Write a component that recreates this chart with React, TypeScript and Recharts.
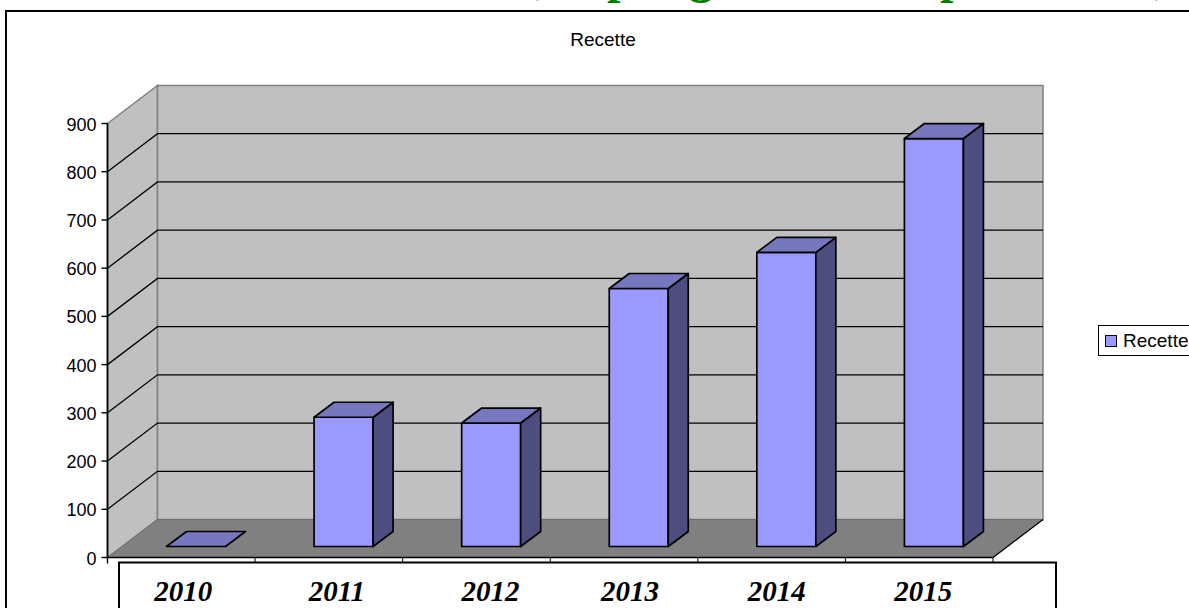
import React from 'react';
import { BarChart, Bar, XAxis, YAxis, CartesianGrid, Legend } from 'recharts';

const years = ['2010', '2011', '2012', '2013', '2014', '2015'];
const recette = [0, 268, 256, 535, 610, 846];
const valueTicks = [0, 100, 200, 300, 400, 500, 600, 700, 800, 900];

const chartData = years.map((year, i) => ({ year, recette: recette[i] }));

// the year labels sit in a text box pasted over the chart, so they are a bit off-centre
const labelNudge = [2, 8, 14, 6, 5, 4];
// bottoms of the cut-off heading above the chart
const headingBits = [
  { ch: ',', x: 536 },
  { ch: 'p', x: 607 },
  { ch: 'g', x: 689 },
  { ch: 'p', x: 940 },
  { ch: ',', x: 1155 },
];

const W = 1189;
const H = 608;
const LEFT = 107.5;
const RIGHT = 993;
const TOP = 123.5;
const BOTTOM = 557.5;
const STEP = (RIGHT - LEFT) / years.length;
// wall depth and column depth of the fake 3D
const DX = 50;
const DY = 38;
const BAR_DX = 20;
const BAR_DY = 15;

const Column = ({ x, y, width, height }: any) => {
  const left = x + 15;
  const right = left + width;
  const top = y - 11;
  const bottom = top + height;
  const line = { stroke: '#000', strokeWidth: 1.7, strokeLinejoin: 'round' as const };
  return (
    <g>
      {height > 0 && <rect x={left} y={top} width={width} height={height} fill="#9999ff" {...line} />}
      {height > 0 && (
        <polygon
          points={`${right},${top} ${right + BAR_DX},${top - BAR_DY} ${right + BAR_DX},${bottom - BAR_DY} ${right},${bottom}`}
          fill="#4d4d80"
          {...line}
        />
      )}
      <polygon
        points={`${left},${top} ${left + BAR_DX},${top - BAR_DY} ${right + BAR_DX},${top - BAR_DY} ${right},${top}`}
        fill="#7777bf"
        {...line}
      />
    </g>
  );
};

const YearTick = ({ x, index }: any) => (
  <g>
    <line x1={x - STEP / 2} y1={BOTTOM} x2={x - STEP / 2} y2={BOTTOM + 5} stroke="#000" />
    {index === years.length - 1 && <line x1={x + STEP / 2} y1={BOTTOM} x2={x + STEP / 2} y2={BOTTOM + 5} stroke="#000" />}
    <text
      x={x + labelNudge[index]}
      y={601}
      textAnchor="middle"
      fontFamily="Liberation Serif"
      fontWeight="bold"
      fontStyle="italic"
      fontSize={29}
      fill="#000"
    >
      {years[index]}
    </text>
  </g>
);

const ValueTick = ({ x, y, payload }: any) => (
  <text x={x} y={y + 7} textAnchor="end" fontFamily="Liberation Sans" fontSize={18} fill="#000">
    {payload.value}
  </text>
);

const GridLine = ({ x1, y1, x2 }: any) => {
  if (y1 <= TOP + 1 || y1 >= BOTTOM - 1) return <g />;
  return (
    <polyline
      points={`${x1},${y1} ${x1 + DX},${y1 - DY} ${x2 + DX},${y1 - DY}`}
      fill="none"
      stroke="#000"
      strokeWidth={1.3}
    />
  );
};

const LegendBox = ({ payload }: any) => (
  <div
    style={{
      width: 130,
      height: 31,
      boxSizing: 'border-box',
      border: '1.5px solid #000',
      background: '#fff',
      display: 'flex',
      alignItems: 'center',
      fontFamily: 'Liberation Sans',
      fontSize: 19,
      color: '#000',
    }}
  >
    <span
      style={{
        width: 10,
        height: 10,
        marginLeft: 6,
        marginRight: 6,
        background: '#9999ff',
        border: '1.5px solid #000',
      }}
    />
    {payload && payload[0] ? payload[0].value : ''}
  </div>
);

export default function App() {
  return (
    <div style={{ position: 'absolute', left: 0, top: 0, width: W, height: H, overflow: 'hidden', background: '#fff' }}>
      <BarChart
        width={W}
        height={H}
        data={chartData}
        barSize={59}
        margin={{ top: TOP, right: W - RIGHT, left: 0, bottom: 0 }}
      >
        {headingBits.map((b) => (
          <text
            key={b.x}
            x={b.x}
            y={-7}
            fontFamily="Liberation Serif"
            fontWeight="bold"
            fontSize={48}
            fill="#008000"
          >
            {b.ch}
          </text>
        ))}
        <rect x={6} y={11} width={1400} height={800} fill="#fff" fillOpacity={0} stroke="#000" strokeWidth={2} />
        <text x={603} y={46} textAnchor="middle" fontFamily="Liberation Sans" fontSize={19} fill="#000">
          Recette
        </text>

        <polygon
          points={`${LEFT},${TOP} ${LEFT + DX},${TOP - DY} ${LEFT + DX},${BOTTOM - DY} ${LEFT},${BOTTOM}`}
          fill="#c0c0c0"
          stroke="#808080"
          strokeWidth={1.5}
        />
        <rect
          x={LEFT + DX}
          y={TOP - DY}
          width={RIGHT - LEFT}
          height={BOTTOM - TOP}
          fill="#c0c0c0"
          stroke="#808080"
          strokeWidth={1.5}
        />
        <polygon
          points={`${LEFT},${BOTTOM} ${LEFT + DX},${BOTTOM - DY} ${RIGHT + DX},${BOTTOM - DY} ${RIGHT},${BOTTOM}`}
          fill="#808080"
          stroke="#6e6e6e"
          strokeWidth={1}
        />
        <line x1={RIGHT} y1={BOTTOM} x2={RIGHT + DX} y2={BOTTOM - DY} stroke="#000" strokeWidth={1.2} />
        <line x1={LEFT} y1={TOP} x2={LEFT} y2={BOTTOM + 6} stroke="#000" strokeWidth={1.4} />
        <rect x={119} y={562.5} width={937} height={80} fill="#fff" stroke="#000" strokeWidth={2} />

        <CartesianGrid zIndex={1} vertical={false} horizontal={GridLine} />
        <XAxis
          dataKey="year"
          interval={0}
          height={H - BOTTOM}
          axisLine={{ stroke: '#000', strokeWidth: 1.4 }}
          tickLine={false}
          tick={YearTick}
        />
        <YAxis
          width={LEFT}
          domain={[0, 900]}
          ticks={valueTicks}
          interval={0}
          tickSize={6}
          tickMargin={5}
          axisLine={{ stroke: '#000', strokeWidth: 1.4 }}
          tickLine={{ stroke: '#000', strokeWidth: 1.4 }}
          tick={ValueTick}
        />
        <Bar dataKey="recette" name="Recette" isAnimationActive={false} shape={Column} />
        <Legend
          layout="vertical"
          align="center"
          verticalAlign="middle"
          content={LegendBox}
          wrapperStyle={{ position: 'absolute', left: 1098, top: 325, width: 130, margin: 0 }}
        />
      </BarChart>
    </div>
  );
}
